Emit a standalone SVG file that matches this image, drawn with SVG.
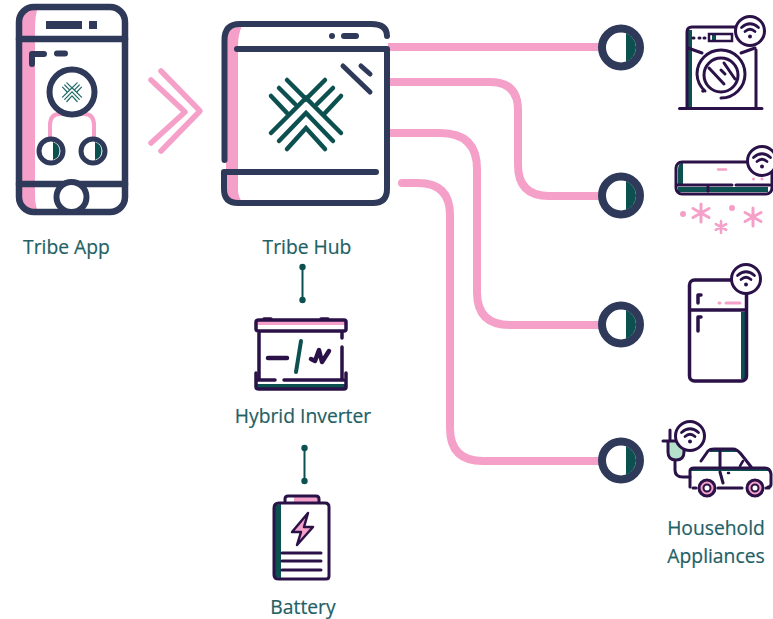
<svg xmlns="http://www.w3.org/2000/svg" xmlns:xlink="http://www.w3.org/1999/xlink" width="773" height="619" viewBox="0 0 773 619">
<style>
.l{font-family:"Open Sans","Liberation Sans",sans-serif;font-size:19.300px;fill:#1f5f66;text-anchor:middle;stroke:#1f5f66;stroke-width:.2}
.n{fill:none;stroke:#2f3a5a;stroke-linecap:round;stroke-linejoin:round}
.p{fill:none;stroke:#f5a0c8;stroke-linecap:round;stroke-linejoin:round}
.g{fill:none;stroke:#0c5050;stroke-linecap:round;stroke-linejoin:round}
.d{fill:none;stroke:#2a1248;stroke-linecap:round;stroke-linejoin:round}
.w{fill:#fff;stroke:#2a1248;stroke-width:3}
.fp{fill:#f5a0c8}.fg{fill:#0c5050}.fd{fill:#2a1248}.fn{fill:#2f3a5a}
</style>
<defs>
<g id="wifi"><circle r="14.500" class="w"/><path class="d" stroke-width="2.700" d="M-8.500-3.500Q0-11 8.500-3.500M-5 .5Q0-4 5 .5"/><circle cy="5.500" r="2" class="fd"/></g>
<g id="dot"><circle r="19" fill="#fff" stroke="#2f3a5a" stroke-width="8"/><path class="fg" d="M5-14.500A15.500 15.500 0 0 1 5 14.500Z"/></g>
<g id="logo"><path d="M-19-19 0 0 19-19M-27-11-11 5M27-11 11 5M-35-3-19 14M35-3 19 14M-35 34 0-1 35 34M-27 42 0 14 27 42M-19 50 0 29 19 50"/></g>
<path id="star" d="M0-9V9M-8-4.500 8 4.500M-8 4.500 8-4.500"/>
</defs>
<g id="connectors">
<g class="p" stroke-width="8">
<path stroke-linecap="butt" d="M388 47H605"/>
<path stroke-linecap="butt" d="M388 82H490Q518 82 518 110V165Q518 196 549 196H605"/>
<path stroke-linecap="butt" d="M388 133H440Q477 133 477 169V292Q477 325 510 325H605"/>
<path d="M402 183H418Q450 183 450 215V428Q450 461 483 461H605"/>
</g>
<g class="g" stroke-width="2"><path d="M302.500 267V300M304.500 448V481"/></g>
<g class="fg"><circle cx="302.500" cy="267" r="3.200"/><circle cx="302.500" cy="300" r="3.200"/><circle cx="304.500" cy="448" r="3.200"/><circle cx="304.500" cy="481" r="3.200"/></g>
<path id="chevrons" class="p" stroke-width="5.500" d="M151 80 185 112 151 143M161 71 200 111 161 151"/>
</g>
<g id="tribe-app">
<path class="fp" d="M33 7H27Q19 7 19 20V200Q19 212 33 212H38Q35 205 35 195V30Q35 15 38 7Z"/>
<rect x="19" y="7" width="106" height="205" rx="15" class="n" stroke-width="6.500"/>
<path class="n" stroke-width="6.500" d="M19 39H125M19 184H125"/>
<path class="fn" d="M46 21H82V29H46ZM89 21H97V29H89Z"/>
<path class="n" stroke-width="6" d="M32 64V54H44M57 53.500H65"/>
<path class="p" stroke-width="4" d="M50 137V125Q50 114 60 114H84Q94 114 94 125V137"/>
<circle cx="72" cy="92" r="22.500" fill="#fff" stroke="#2f3a5a" stroke-width="6"/>
<use xlink:href="#logo" href="#logo" transform="translate(72 88) scale(.27)" fill="none" stroke="#1f6a68" stroke-width="4.500" stroke-linecap="round"/>
<circle cx="51" cy="151" r="12" fill="#fff" stroke="#2f3a5a" stroke-width="5"/><path class="fg" d="M53 142A9.500 9.500 0 0 1 53 160Z"/>
<circle cx="93" cy="151" r="12" fill="#fff" stroke="#2f3a5a" stroke-width="5"/><path class="fg" d="M95 142A9.500 9.500 0 0 1 95 160Z"/>
<circle cx="71.500" cy="197" r="15" fill="#fff" stroke="#2f3a5a" stroke-width="6"/>
<text x="66.500" y="254" class="l">Tribe App</text>
</g>
<g id="tribe-hub">
<path class="fp" d="M226 42Q226 27 242 26Q238 34 238 46V190Q238 196 242 202Q226 202 226 188Z"/>
<path class="n" stroke-width="6" d="M224.500 160V40Q224.500 24 240 24H371Q387 24 387 36"/>
<path class="n" stroke-width="6" d="M237 49H387V189Q387 203 373 203H238Q224 203 224 189V172H376"/>
<circle cx="332" cy="36" r="3" class="fn"/>
<path class="n" stroke-width="6" d="M344 36H356"/>
<path class="n" stroke-width="5" d="M343 66 370 92M361 66 370 74"/>
<use xlink:href="#logo" href="#logo" transform="translate(306 99)" fill="none" stroke="#0c5050" stroke-width="4.500" stroke-linecap="round"/>
<text x="307" y="254" class="l">Tribe Hub</text>
</g>
<g id="hybrid-inverter">
<path class="fp" d="M257 320H345V325H257Z"/>
<path class="fg" d="M257 384H345V388H257Z"/>
<path class="d" stroke-width="3.500" d="M259 320H344Q346 320 346 322V329Q346 331 344 331H259Q256 331 256 329V322Q256 320 259 320ZM259 331V379M342 331V338M342 347V379M264 319H271M321 319H328"/>
<path class="d" stroke-width="3.500" d="M256 373V387Q256 389 259 389H344Q346 389 346 387V373M259 380H275M284 380H343"/>
<path class="g" stroke-width="4" d="M301 341 296 372"/>
<path class="d" stroke-width="4.500" d="M268 358H287"/>
<path class="d" stroke-width="4.500" d="M311 359 315 361 319 350 322 362 329 351"/>
<text x="303" y="423" class="l">Hybrid Inverter</text>
</g>
<g id="battery">
<path class="fp" d="M294 496H319V503H294Z"/>
<path class="fg" d="M274 508Q274 504 281 504V578Q274 578 274 574Z"/>
<path class="d" stroke-width="3" d="M285 503V499Q285 496 288 496H316Q319 496 319 499V503M279 503H325Q329 503 329 507V576Q329 579 326 579H279Q274 579 274 575V508Q274 503 279 503Z"/>
<path class="d" style="fill:#f5a0c8" stroke-width="2.500" d="M308 513 292 532H301L297 545 313 527H304Z"/>
<path class="d" stroke-width="3" d="M282 553H321M282 561H321M282 570H321"/>
<text x="303" y="614" class="l">Battery</text>
</g>
<g id="washer">
<path class="fg" d="M688 30H692V107H688Z"/>
<path class="d" stroke-width="3" d="M687 107V32Q687 27 692 27H740M756 50V107M679.500 108.500H762"/>
<path class="fg" d="M712 34H716V41H712Z"/>
<rect x="709" y="34" width="23" height="7" fill="none" stroke="#2a1248" stroke-width="2.500"/>
<path class="d" stroke-width="3" d="M693 38H694M699 38H700M704 38H705M688 48 702 53M741 53 755 48"/>
<path class="d" stroke-width="3" d="M697 74A24 24 0 0 1 745 74A24 24 0 0 1 721 98M705 91A24 24 0 0 1 697 74"/>
<circle cx="721" cy="75" r="17" class="d" stroke-width="3"/>
<path class="d" stroke-width="3" d="M709 68 724 84M724 63 735 79M721 70 725 74"/>
<circle cx="703" cy="91" r="1.800" class="fd"/>
<use xlink:href="#wifi" href="#wifi" x="750" y="31"/>
</g>
<g id="air-conditioner">
<path class="fg" d="M678 170Q678 163 683 162V184H678Z"/>
<path class="fg" d="M678 187H768V192H678Z"/>
<rect x="676" y="162" width="96" height="32" rx="6" fill="none" stroke="#2a1248" stroke-width="3"/>
<path class="d" stroke-width="3" d="M677 185H732M736 185H770M708 187V191"/>
<path class="p" stroke-width="2.500" d="M718 169.500H726"/>
<circle cx="753.500" cy="179" r="1.500" class="fp"/><circle cx="762" cy="179" r="1.500" class="fp"/>
<use xlink:href="#wifi" href="#wifi" x="762" y="161"/>
<g class="p" stroke-width="3"><use xlink:href="#star" href="#star" x="701" y="213"/><use xlink:href="#star" href="#star" transform="translate(721 227) scale(.65)" stroke-width="4"/><use xlink:href="#star" href="#star" x="753" y="217"/></g>
<circle cx="683" cy="214" r="3" class="fp"/><circle cx="732" cy="208" r="3" class="fp"/>
</g>
<g id="fridge">
<path class="fg" d="M741 312H746V379H741Z"/>
<rect x="689.500" y="280" width="57" height="101" rx="5" fill="none" stroke="#2a1248" stroke-width="3.500"/>
<path class="d" stroke-width="3.500" d="M690 310H746"/>
<path class="d" stroke-width="3.500" d="M698 303V295H701M698 331V317H701"/>
<path class="p" stroke-width="3" d="M719 303H720M726 303H740"/>
<use xlink:href="#wifi" href="#wifi" x="746" y="279"/>
</g>
<g id="car">
<path d="M669 442H684V452Q684 460 676 460Q669 460 669 452Z" fill="#b4e0cc"/>
<path class="d" stroke-width="3" d="M670 430V441M663 441H680M668 441V452Q668 460 676 460Q684 460 684 452V445M675 460V470Q675 477 683 477H690"/>
<use xlink:href="#wifi" href="#wifi" x="690" y="436"/>
<path class="fg" d="M710 449H738V452H710ZM691 468H768V471H691Z"/>
<path class="d" stroke-width="3" d="M701 461 708 451Q710 449 714 449H733Q737 449 741 454L752 468H765Q770 468 771 474V484Q771 487 768 487M690 487V471Q690 468 694 468H752M720 451V466M720 472 723 483M693 488H696M718 488H742M766 488H769"/>
<path class="d" stroke-width="2.500" d="M740 466 743 461M728 473H729"/>
<circle cx="707" cy="488" r="8" fill="#f5a0c8" stroke="#2a1248" stroke-width="3"/><circle cx="707" cy="488" r="3.500" fill="#fff" stroke="#2a1248" stroke-width="2"/>
<circle cx="755" cy="488" r="8" fill="#f5a0c8" stroke="#2a1248" stroke-width="3"/><circle cx="755" cy="488" r="3.500" fill="#fff" stroke="#2a1248" stroke-width="2"/>
<text x="716" y="535" class="l">Household</text>
<text x="716" y="563" class="l">Appliances</text>
</g>
<g id="port-1"><use xlink:href="#dot" href="#dot" x="621" y="47.500"/></g>
<g id="port-2"><use xlink:href="#dot" href="#dot" x="621" y="195.500"/></g>
<g id="port-3"><use xlink:href="#dot" href="#dot" x="621" y="324.500"/></g>
<g id="port-4"><use xlink:href="#dot" href="#dot" x="621" y="460.500"/></g>
</svg>
